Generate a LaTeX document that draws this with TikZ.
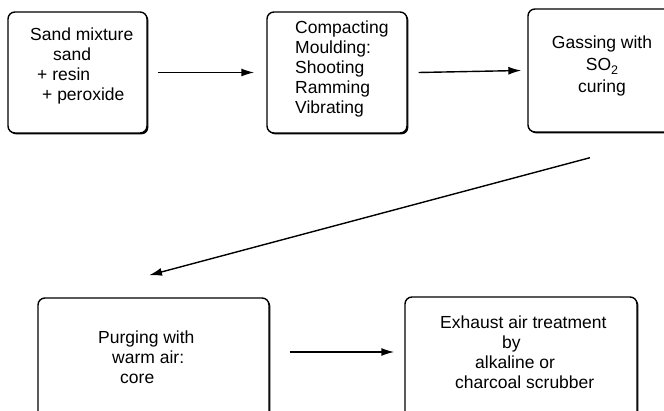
\documentclass[tikz,border=0pt]{standalone}
\usepackage{fontspec}
\setmainfont{Liberation Sans}
\usetikzlibrary{arrows.meta,shadows,calc}
\tikzset{
  box/.style={draw=black, line width=1.4pt, rounded corners=7pt, fill=white,
    drop shadow={shadow xshift=1.4pt, shadow yshift=-1.4pt, opacity=1, fill=black},
    inner sep=0pt},
  txt/.style={inner sep=0pt, align=left, font=\fontsize{17.5}{20}\selectfont},
  arr/.style={line width=1.4pt, -{Latex[length=13pt,width=8pt]}}
}
\newcommand{\subtwo}{\raisebox{-4pt}{\fontsize{12.5}{12.5}\selectfont 2}}
\begin{document}
\begin{tikzpicture}[x=1pt,y=-1pt]
\useasboundingbox (0,0) rectangle (664,411);
\clip (0,0) rectangle (664,411);
\node[box, minimum width=139pt, minimum height=121pt] (b1) at (77.5,72.5) {};
\node[box, minimum width=140pt, minimum height=121pt] (b2) at (337,72.5) {};
\node[box, minimum width=148pt, minimum height=123pt] (b3) at (602,70.5) {};
\node[box, minimum width=231pt, minimum height=124pt] (b4) at (153.5,360) {};
\node[box, minimum width=232pt, minimum height=124pt] (b5) at (521,359) {};

\node[txt, anchor=west] (t1) at (30,66) {Sand mixture\\\hspace*{23pt}sand\\\hspace*{7pt}+ resin\\\hspace*{12pt}+ peroxide};
\node[txt, anchor=west] (t2) at (295,68.5) {Compacting\\Moulding:\\Shooting\\Ramming\\Vibrating};
\node[txt, align=center, font=\fontsize{17.5}{22}\selectfont] (t3) at (602,65.5) {Gassing with\\SO\subtwo\\curing};
\node[txt, anchor=west] (t4) at (98,357) {Purging with\\\hspace*{14pt}warm air:\\\hspace*{22pt}core};
\node[txt, anchor=west] (t5) at (440,352.5) {Exhaust air treatment\\\hspace*{62pt}by\\\hspace*{35pt}alkaline or\\\hspace*{15pt}charcoal scrubber};

\draw[arr] ($(b1.east)+(10,0)$) -- ($(b2.west)+(-12,0)$);
\draw[arr] ($(b2.east)+(11,0)$) -- ($(b3.west)+(-6,0)$);
\draw[arr] ($(b3.south)+(-12,25)$) -- ($(b4.north)+(-4.5,-22)$);
\draw[arr] ($(b4.east)+(20,-8)$) -- ($(b5.west)+(-10,-7)$);
\end{tikzpicture}
\end{document}
